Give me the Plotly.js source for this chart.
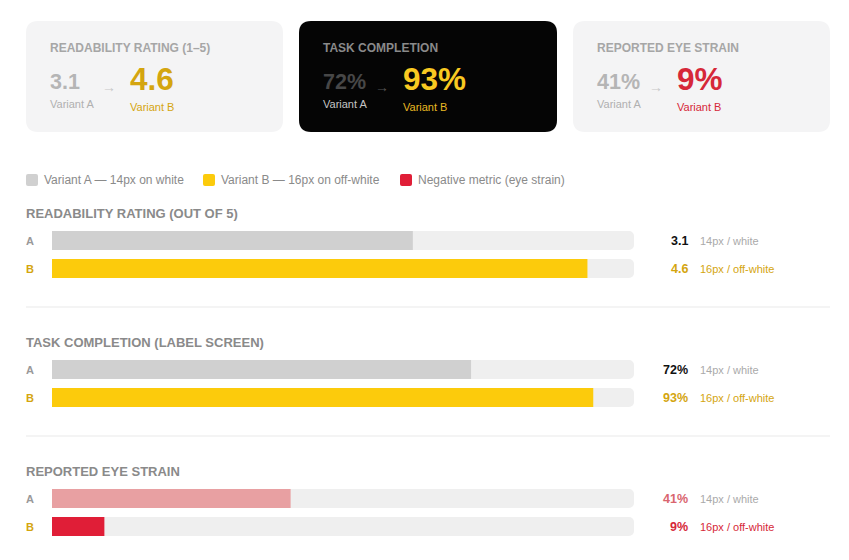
<!DOCTYPE html>
<html><head><meta charset="utf-8">
<script src="https://cdn.plot.ly/plotly-3.0.1.min.js"></script>
<style>html,body{margin:0;padding:0;background:#fff;} #chart{width:849px;height:560px;}</style>
</head><body><div id="chart"></div>
<script>
const W = 849, H = 560;
// ---- data ----
const cardTitles = ['READABILITY RATING (1–5)', 'TASK COMPLETION', 'REPORTED EYE STRAIN'];
const sectionTitles = ['READABILITY RATING (OUT OF 5)', 'TASK COMPLETION (LABEL SCREEN)', 'REPORTED EYE STRAIN'];
const variantA = [3.1, 72, 41];
const variantB = [4.6, 93, 9];
const scaleMax = [5, 100, 100];
const labelsA = ['3.1', '72%', '41%'];
const labelsB = ['4.6', '93%', '9%'];
const rowLabels = ['A', 'B'];
const rowNotes = ['14px / white', '16px / off-white'];
const cardSubLabels = ['Variant A', 'Variant B'];
const legendLabels = ['Variant A — 14px on white', 'Variant B — 16px on off-white', 'Negative metric (eye strain)'];

// ---- styles ----
const FONT = 'Liberation Sans, Arial, Helvetica, sans-serif';
const px = x => x / W, py = y => 1 - y / H;
const legendColors = ['#d0d0d0', '#fccb0c', '#e01e37'];
const barColors = [['#d0d0d0', '#fccb0c'], ['#d0d0d0', '#fccb0c'], ['#e8a0a2', '#e01e37']];
const valueColors = [['#111111', '#d4a50f'], ['#111111', '#d4a50f'], ['#d9656e', '#d62839']];
const noteColors = [['#aaaaaa', '#d4a50f'], ['#aaaaaa', '#d4a50f'], ['#aaaaaa', '#d62839']];
const cards = [
  {x0: 26, x1: 283, bg: '#f4f4f5', title: '#a6a6a6', a: '#b5b5b5', b: '#d4a50f', subA: '#b0b0b0', subB: '#d4a50f', arrow: '#c8c8c8'},
  {x0: 299, x1: 557, bg: '#050505', title: '#8a8a8a', a: '#474747', b: '#f9c921', subA: '#c4c4c4', subB: '#e8b923', arrow: '#555555'},
  {x0: 573, x1: 830, bg: '#f4f4f5', title: '#a6a6a6', a: '#b5b5b5', b: '#d62839', subA: '#b0b0b0', subB: '#d62839', arrow: '#c8c8c8'}
];
const sectionTop = [226.5, 355.5, 484.5];
const sectionTitleY = [213, 342, 471];

function roundRect(x0, y0, x1, y1, r) {
  const rx = r / W, ry = r / H;
  const L = px(x0), R = px(x1), T = py(y0), B = py(y1);
  return `M${L + rx},${T} L${R - rx},${T} Q${R},${T} ${R},${T - ry} L${R},${B + ry} Q${R},${B} ${R - rx},${B} L${L + rx},${B} Q${L},${B} ${L},${B + ry} L${L},${T - ry} Q${L},${T} ${L + rx},${T} Z`;
}

const shapes = [], annotations = [], traces = [];
function note(o) { annotations.push(Object.assign({showarrow: false, borderpad: 0, yanchor: 'middle'}, o)); }
const layout = {
  width: W, height: H, margin: {l: 0, r: 0, t: 0, b: 0},
  paper_bgcolor: '#ffffff', plot_bgcolor: 'rgba(0,0,0,0)',
  showlegend: false, barmode: 'overlay', barcornerradius: 5,
  font: {family: FONT}, hovermode: false
};

// cards
cards.forEach((c, i) => {
  shapes.push({type: 'path', xref: 'paper', yref: 'paper', path: roundRect(c.x0, 21, c.x1, 132, 12), fillcolor: c.bg, line: {width: 0}, layer: 'below'});
  const lx = c.x0 + 23;
  note({xref: 'paper', yref: 'paper', x: px(lx), y: py(47.5), xanchor: 'left', text: cardTitles[i], font: {size: 12, color: c.title, weight: 700}});
  note({xref: 'paper', yref: 'paper', x: px(lx), y: py(82), xanchor: 'left', text: labelsA[i], font: {size: 21.5, color: c.a, weight: 700}});
  note({xref: 'paper', yref: 'paper', x: px(lx), y: py(104), xanchor: 'left', text: cardSubLabels[0], font: {size: 11, color: c.subA}});
  note({xref: 'paper', yref: 'paper', x: px(lx + 52), y: py(87), xanchor: 'left', text: '→', font: {size: 14, color: c.arrow}});
  note({xref: 'paper', yref: 'paper', x: px(lx + 80), y: py(79), xanchor: 'left', text: labelsB[i], font: {size: 31.5, color: c.b, weight: 700}});
  note({xref: 'paper', yref: 'paper', x: px(lx + 80), y: py(107), xanchor: 'left', text: cardSubLabels[1], font: {size: 11, color: c.subB}});
});

// legend
const legX = [26, 203, 400];
legendLabels.forEach((t, i) => {
  shapes.push({type: 'path', xref: 'paper', yref: 'paper', path: roundRect(legX[i], 174, legX[i] + 12, 186, 2), fillcolor: legendColors[i], line: {width: 0}});
  note({xref: 'paper', yref: 'paper', x: px(legX[i] + 17), y: py(180), xanchor: 'left', text: t, font: {size: 12, color: '#8a8a8a'}});
});

// dividers
[307, 436].forEach(y => shapes.push({type: 'line', xref: 'paper', yref: 'paper', x0: px(26), x1: px(830), y0: py(y), y1: py(y), line: {color: '#e9e9e9', width: 1}}));

// sections
sectionTitles.forEach((t, i) => {
  const s = i === 0 ? '' : String(i + 1);
  const xa = 'x' + s, ya = 'y' + s;
  layout['xaxis' + s] = {domain: [px(52), px(634)], range: [0, scaleMax[i]], visible: false, fixedrange: true, anchor: ya};
  layout['yaxis' + s] = {domain: [py(sectionTop[i] + 56), py(sectionTop[i])], range: [-0.5, 1.5], visible: false, fixedrange: true, anchor: xa};
  note({xref: 'paper', yref: 'paper', x: px(25), y: py(sectionTitleY[i]), xanchor: 'left', text: t, font: {size: 13, color: '#8a8a8a', weight: 700}});
  // track
  traces.push({type: 'bar', orientation: 'h', x: [scaleMax[i], scaleMax[i]], y: [1, 0], width: 0.68, xaxis: xa, yaxis: ya,
    marker: {color: '#efefef', line: {width: 0}, cornerradius: 5}, hoverinfo: 'skip'});
  // values
  traces.push({type: 'bar', orientation: 'h', x: [variantA[i], variantB[i]], y: [1, 0], width: 0.68, xaxis: xa, yaxis: ya,
    marker: {color: barColors[i], line: {width: 0}, cornerradius: 5}, hoverinfo: 'skip'});
  const vals = [labelsA[i], labelsB[i]];
  [1, 0].forEach((yy, k) => {
    note({xref: 'paper', yref: ya, x: px(25), y: yy, xanchor: 'left', text: rowLabels[k], font: {size: 11, color: k === 0 ? '#999999' : '#d4a50f', weight: 700}});
    note({xref: 'paper', yref: ya, x: px(689), y: yy, xanchor: 'right', text: vals[k], font: {size: 12.5, color: valueColors[i][k], weight: 700}});
    note({xref: 'paper', yref: ya, x: px(699), y: yy, xanchor: 'left', text: rowNotes[k], font: {size: 11, color: noteColors[i][k]}});
  });
});

layout.shapes = shapes;
layout.annotations = annotations;
Plotly.newPlot('chart', traces, layout, {displayModeBar: false, staticPlot: true});
</script>
</body></html>
